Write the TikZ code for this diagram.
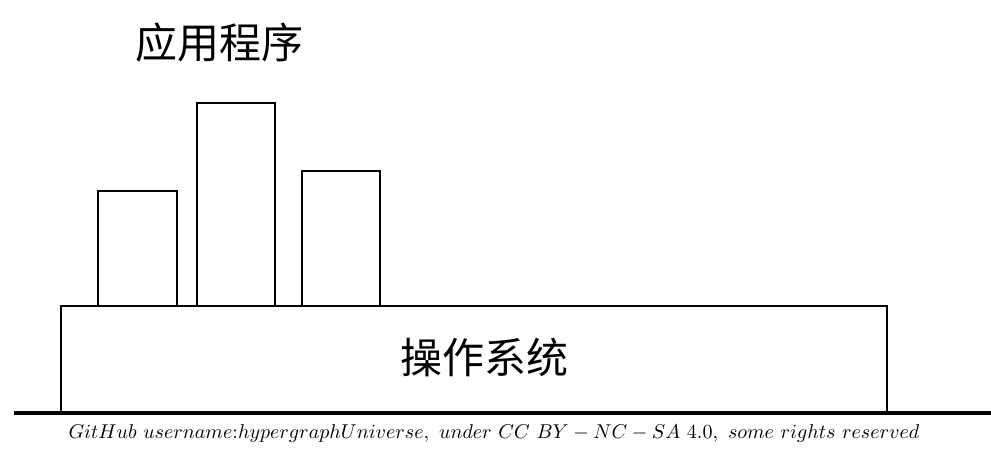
\documentclass[tikz,border=0pt]{standalone}
\usepackage{fontspec}
\newfontfamily\cjk{Noto Sans CJK SC}
\begin{document}
\begin{tikzpicture}[x=0.5pt,y=-0.5pt,
  box/.style={draw, line width=1.2pt, inner sep=0pt, anchor=south west},
  cjklabel/.style={font=\cjk\fontsize{21}{21}\selectfont, inner sep=0pt}]
\useasboundingbox (0,0) rectangle (991,456);
\node[box, minimum width=413pt, minimum height=53pt] (os) at (60,413) {};
\node[cjklabel] (oslabel) at (484,357) {操作系统};
\node[box, minimum width=39.5pt, minimum height=57.5pt] (app1) at (97,307) {};
\node[box, minimum width=39pt, minimum height=101.5pt] (app2) at (196,307) {};
\node[box, minimum width=39pt, minimum height=67.5pt] (app3) at (301,307) {};
\node[cjklabel] (applabel) at (219,43) {应用程序};
\coordinate (gl) at (14,413);
\coordinate (gr) at (991,413);
\draw[line width=1.8pt] (gl) -- (gr);
\node[inner sep=0pt] (caption) at (494,433) {$GitHub\ username{:}hypergraphUniverse,\ under\ CC\ BY-NC-SA\ 4.0,\ some\ rights\ reserved$};
\end{tikzpicture}
\end{document}
